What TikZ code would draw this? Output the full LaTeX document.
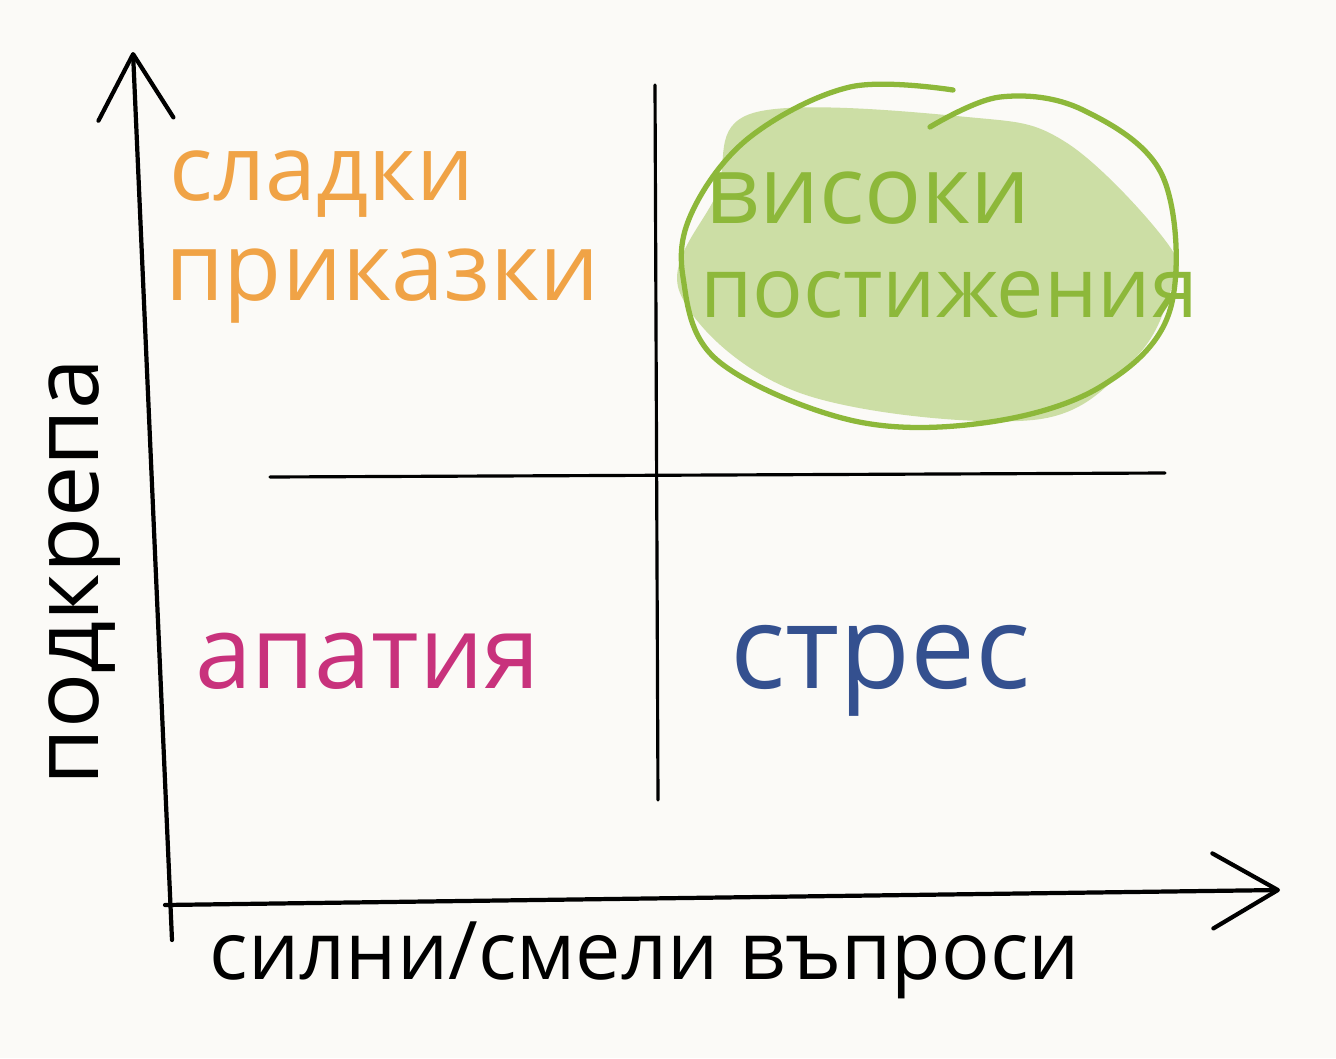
\documentclass[tikz,border=0pt]{standalone}
\usepackage{fontspec}
\setmainfont{Open Sans}
\usetikzlibrary{arrows.meta}

\definecolor{paper}{HTML}{FBFAF7}
\definecolor{sweetcol}{HTML}{F0A346}
\definecolor{highline}{HTML}{8DB83A}
\definecolor{highfill}{HTML}{CCDEA5}
\definecolor{apathycol}{HTML}{C8327C}
\definecolor{stresscol}{HTML}{34508F}

\begin{document}
\begin{tikzpicture}[x=1cm,y=1cm]
\tikzset{ >={Straight Barb[length=6.5mm,width=7.5mm,round]},
  axis/.style={line width=1.2pt, line cap=round, line join=round},
  divider/.style={line width=0.9pt, line cap=round},
  hand/.style={inner sep=0pt, outer sep=0pt, anchor=base west},
}

\fill [paper] (0,0) rectangle (13.36,10.58);
\useasboundingbox (0,0) rectangle (13.36,10.58);

%\draw [lightgray, dashed](0,0) grid (13,10);

% axes
\coordinate (Ybot) at (1.72,1.18);
\coordinate (Ytop) at (1.33,10.06);
\coordinate (Xbeg) at (1.65,1.53);
\coordinate (Xend) at (12.80,1.68);

\draw [axis,->] (Ybot) -- (Ytop);
\draw [axis,->] (Xbeg) -- (Xend);

% quadrant lines
\coordinate (Vtop) at (6.55,9.73);
\coordinate (Vbot) at (6.58,2.58);
\coordinate (Hlft) at (2.70,5.81);
\coordinate (Hrgt) at (11.65,5.85);

\draw [divider] (Vtop) -- (Vbot);
\draw [divider] (Hlft) -- (Hrgt);

% highlighted quadrant
\fill [highfill] plot [smooth cycle, tension=0.6] coordinates
  {(7.53,9.45) (9.67,9.41) (10.67,9.15) (11.70,8.11) (11.70,7.65)
   (11.33,6.98) (10.33,6.38) (8.00,6.65) (6.80,7.65) (7.17,8.65)};
\draw [highline, line width=1.5pt, line cap=round] plot [smooth, tension=0.6] coordinates
  {(9.53,9.68) (8.50,9.71) (7.50,9.21) (6.93,8.48) (6.83,7.81) (7.17,6.98)
   (8.50,6.38) (9.83,6.35) (11.00,6.71) (11.70,7.48) (11.63,8.81)
   (10.83,9.48) (10.00,9.61) (9.30,9.31)};

% labels
\node [hand, sweetcol, font=\fontsize{26}{30}\selectfont] (sweet1) at (1.70,8.58) {сладки};
\node [hand, sweetcol, font=\fontsize{27}{31}\selectfont] (sweet2) at (1.65,7.58) {приказки};

\node [hand, highline, font=\fontsize{27}{31}\selectfont] (high1) at (7.05,8.35) {високи};
\node [hand, highline, font=\fontsize{24}{28}\selectfont] (high2) at (7.00,7.41) {постижения};

\node [hand, apathycol, font=\fontsize{29}{33}\selectfont] (apathy) at (1.95,3.70) {апатия};
\node [hand, stresscol, font=\fontsize{33}{37}\selectfont] (stress) at (7.30,3.70) {стрес};

\node [inner sep=0pt, rotate=90, font=\fontsize{26}{30}\selectfont] (support) at (0.85,4.86) {подкрепа};
\node [inner sep=0pt, font=\fontsize{23}{27}\selectfont] (questions) at (6.45,0.98) {силни/смели въпроси};

\end{tikzpicture}
\end{document}
